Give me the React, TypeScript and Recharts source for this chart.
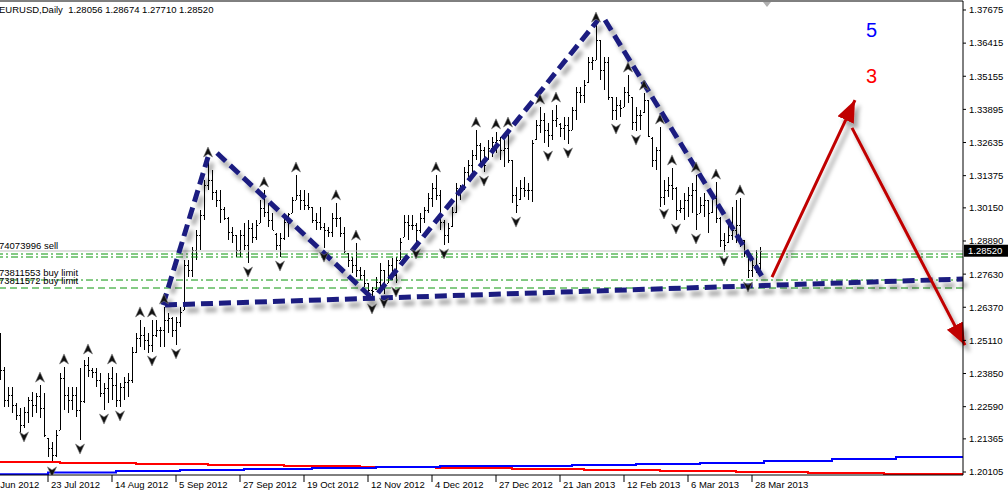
import React from "react";
import { ComposedChart, Bar, Line, Scatter, XAxis, YAxis, ReferenceLine, ReferenceDot } from "recharts";

const FONT = '"Liberation Sans", Arial, sans-serif';
const NAVY = "#1b1f80";
const ARROW_RED = "#c00000";
const ORDER_GREEN = "#0a960a";

// daily bars, index 0 = 5 Jul 2012
const highs = [
  1.2539, 1.241, 1.2334, 1.2334, 1.2273, 1.2254, 1.2258, 1.2296, 1.2315, 1.2311,
  1.2341, 1.2311, 1.214, 1.2125, 1.217, 1.2387, 1.241, 1.2334, 1.2334, 1.2334,
  1.2406, 1.2436, 1.2448, 1.2406, 1.2406, 1.2387, 1.2349, 1.2387, 1.241, 1.2387,
  1.2349, 1.2372, 1.2387, 1.2486, 1.2539, 1.2589, 1.2562, 1.2539, 1.2589, 1.2589,
  1.2562, 1.2638, 1.2615, 1.26, 1.26, 1.2638, 1.2817, 1.2817, 1.2866, 1.2931,
  1.3007, 1.3121, 1.3197, 1.3159, 1.3083, 1.3083, 1.3018, 1.298, 1.2942, 1.2912,
  1.2931, 1.2957, 1.2969, 1.2957, 1.2969, 1.3045, 1.3083, 1.3034, 1.2995, 1.2919,
  1.2919, 1.298, 1.2995, 1.3056, 1.314, 1.3083, 1.3083, 1.3072, 1.3018, 1.2995,
  1.3018, 1.2957, 1.2942, 1.2995, 1.3034, 1.298, 1.2942, 1.2843, 1.2828, 1.2881,
  1.279, 1.2779, 1.2729, 1.2714, 1.2752, 1.2805, 1.2779, 1.2817, 1.2824, 1.2828,
  1.29, 1.2988, 1.2988, 1.2988, 1.2957, 1.2995, 1.3018, 1.3072, 1.311, 1.314,
  1.3083, 1.2969, 1.2957, 1.3018, 1.311, 1.3102, 1.317, 1.3197, 1.3235, 1.3311,
  1.3262, 1.3246, 1.3273, 1.3284, 1.3304, 1.3284, 1.3273, 1.3311, 1.3197, 1.3094,
  1.3121, 1.3132, 1.311, 1.3273, 1.3349, 1.3399, 1.3376, 1.3338, 1.3387, 1.3406,
  1.3338, 1.3361, 1.3361, 1.3399, 1.3475, 1.3475, 1.3501, 1.3589, 1.3589, 1.371,
  1.3653, 1.3589, 1.3589, 1.3437, 1.3437, 1.3425, 1.3475, 1.352, 1.3437, 1.3399,
  1.3387, 1.3452, 1.3425, 1.3284, 1.3246, 1.3323, 1.3121, 1.3132, 1.3167, 1.3094,
  1.3045, 1.3072, 1.3094, 1.311, 1.314, 1.3056, 1.3072, 1.3045, 1.3072, 1.3113,
  1.298, 1.2919, 1.2969, 1.3018, 1.3045, 1.3053, 1.2893, 1.2843, 1.2828, 1.2855,
  1.28674,
];
const lows = [
  1.236, 1.2258, 1.2258, 1.2235, 1.2208, 1.2159, 1.2178, 1.2197, 1.222, 1.2235,
  1.2216, 1.2144, 1.2068, 1.2045, 1.2068, 1.217, 1.2246, 1.2235, 1.2246, 1.222,
  1.2132, 1.2273, 1.2372, 1.2368, 1.2334, 1.2296, 1.2246, 1.2273, 1.2284, 1.2258,
  1.2258, 1.2284, 1.2296, 1.2349, 1.2463, 1.2486, 1.2474, 1.2463, 1.2467, 1.2524,
  1.2486, 1.2486, 1.2539, 1.2524, 1.2494, 1.2562, 1.2627, 1.2752, 1.2752, 1.2817,
  1.2855, 1.2969, 1.3083, 1.3045, 1.3018, 1.2957, 1.2969, 1.2893, 1.2881, 1.2828,
  1.2828, 1.2855, 1.2805, 1.2881, 1.2893, 1.2957, 1.298, 1.2942, 1.2931, 1.2855,
  1.2828, 1.2893, 1.2904, 1.2995, 1.3045, 1.3007, 1.3007, 1.3007, 1.2957, 1.2931,
  1.2931, 1.2862, 1.2904, 1.2904, 1.2942, 1.2904, 1.2843, 1.279, 1.2767, 1.2752,
  1.2741, 1.2714, 1.2676, 1.2665, 1.2703, 1.2703, 1.2687, 1.2729, 1.2741, 1.2729,
  1.2817, 1.2904, 1.2893, 1.2931, 1.2874, 1.2919, 1.2957, 1.2995, 1.3018, 1.3045,
  1.2931, 1.2874, 1.2881, 1.2942, 1.2995, 1.3045, 1.3083, 1.3132, 1.3148, 1.3197,
  1.317, 1.3151, 1.3197, 1.3208, 1.3224, 1.3197, 1.317, 1.3186, 1.3034, 1.2995,
  1.3045, 1.3056, 1.3045, 1.3037, 1.3273, 1.33, 1.3262, 1.3246, 1.3273, 1.3323,
  1.3284, 1.3273, 1.3258, 1.3311, 1.3349, 1.3414, 1.3414, 1.349, 1.3539, 1.3577,
  1.3501, 1.3463, 1.3425, 1.3349, 1.3349, 1.3361, 1.3399, 1.3414, 1.3311, 1.3307,
  1.3311, 1.3376, 1.3284, 1.317, 1.3159, 1.3018, 1.3026, 1.3056, 1.3045, 1.2969,
  1.2995, 1.2969, 1.298, 1.2995, 1.2931, 1.2995, 1.298, 1.2919, 1.2995, 1.2957,
  1.2866, 1.2847, 1.2881, 1.2893, 1.2881, 1.2866, 1.2828, 1.2748, 1.2752, 1.2767,
  1.2771,
];
const opens = [
  1.2494, 1.2398, 1.2284, 1.2303, 1.2265, 1.2227, 1.2189, 1.2239, 1.2284, 1.2265,
  1.23, 1.2254, 1.214, 1.2102, 1.2075, 1.217, 1.2368, 1.2303, 1.2284, 1.2303,
  1.2246, 1.228, 1.2417, 1.2398, 1.2391, 1.236, 1.2311, 1.233, 1.2368, 1.2341,
  1.2284, 1.2334, 1.2353, 1.236, 1.2467, 1.252, 1.2531, 1.2513, 1.2494, 1.2531,
  1.2551, 1.2551, 1.2589, 1.2596, 1.2551, 1.2581, 1.2627, 1.2798, 1.2779, 1.2855,
  1.2912, 1.2988, 1.3102, 1.3121, 1.3075, 1.3045, 1.301, 1.2975, 1.2923, 1.2912,
  1.2855, 1.2912, 1.2874, 1.2938, 1.2904, 1.2957, 1.3015, 1.2999, 1.2969, 1.2915,
  1.2874, 1.29, 1.2961, 1.2995, 1.3045, 1.3064, 1.3045, 1.3026, 1.3018, 1.2969,
  1.2961, 1.2942, 1.2931, 1.2923, 1.2976, 1.2976, 1.2919, 1.2843, 1.2817, 1.2798,
  1.2779, 1.276, 1.2729, 1.2703, 1.2705, 1.2733, 1.2779, 1.273, 1.2798, 1.276,
  1.2817, 1.2904, 1.2961, 1.2949, 1.2949, 1.2931, 1.2976, 1.3007, 1.3053, 1.3091,
  1.3064, 1.2961, 1.2912, 1.2945, 1.2999, 1.3091, 1.3085, 1.3151, 1.3178, 1.3216,
  1.3254, 1.3235, 1.32, 1.3243, 1.3266, 1.3273, 1.3235, 1.3243, 1.3197, 1.3064,
  1.3048, 1.3091, 1.3083, 1.3083, 1.3275, 1.333, 1.3349, 1.3311, 1.3292, 1.3349,
  1.3335, 1.3319, 1.333, 1.3311, 1.3387, 1.3456, 1.3444, 1.3492, 1.357, 1.3577,
  1.3653, 1.3539, 1.357, 1.3437, 1.3387, 1.3406, 1.3399, 1.3456, 1.3435, 1.3342,
  1.3368, 1.3378, 1.3425, 1.3282, 1.3197, 1.3235, 1.3056, 1.3083, 1.3102, 1.309,
  1.3007, 1.3015, 1.3045, 1.3064, 1.3083, 1.2995, 1.3026, 1.3045, 1.2998, 1.3053,
  1.2978, 1.2893, 1.2885, 1.2912, 1.2931, 1.2949, 1.2893, 1.2843, 1.2779, 1.2798,
  1.28056,
];
const closes = [
  1.2398, 1.2284, 1.2303, 1.2265, 1.2227, 1.2189, 1.2239, 1.2284, 1.2265, 1.23,
  1.2254, 1.2151, 1.2102, 1.2075, 1.2151, 1.2368, 1.2303, 1.2284, 1.2303, 1.2246,
  1.228, 1.2417, 1.2398, 1.2391, 1.236, 1.2311, 1.233, 1.2368, 1.2341, 1.2284,
  1.2334, 1.2353, 1.236, 1.2467, 1.252, 1.2531, 1.2513, 1.2494, 1.2531, 1.2551,
  1.2551, 1.2589, 1.2596, 1.2551, 1.2581, 1.2619, 1.2798, 1.2779, 1.2855, 1.2912,
  1.2988, 1.3102, 1.3121, 1.3075, 1.3045, 1.301, 1.2975, 1.2923, 1.2912, 1.2855,
  1.2912, 1.2874, 1.2938, 1.2904, 1.2949, 1.3015, 1.2999, 1.2969, 1.2931, 1.2874,
  1.29, 1.2961, 1.299, 1.3045, 1.3064, 1.3045, 1.3026, 1.3018, 1.2969, 1.2961,
  1.2942, 1.2931, 1.2923, 1.2976, 1.2976, 1.2919, 1.285, 1.2817, 1.2798, 1.2779,
  1.276, 1.2729, 1.2703, 1.27, 1.2733, 1.2779, 1.2722, 1.2798, 1.276, 1.2815,
  1.2885, 1.2961, 1.2949, 1.2949, 1.2931, 1.2976, 1.3007, 1.3053, 1.3091, 1.3064,
  1.2961, 1.2912, 1.2938, 1.2999, 1.3091, 1.3075, 1.3151, 1.3178, 1.3216, 1.3254,
  1.3235, 1.3178, 1.3243, 1.3266, 1.3273, 1.3235, 1.3243, 1.3197, 1.3064, 1.3026,
  1.3091, 1.3083, 1.3083, 1.3262, 1.333, 1.3349, 1.3311, 1.3292, 1.3349, 1.3357,
  1.3319, 1.333, 1.3311, 1.3387, 1.3456, 1.3444, 1.3482, 1.357, 1.3577, 1.3653,
  1.3539, 1.357, 1.3437, 1.3387, 1.3406, 1.3395, 1.3456, 1.3444, 1.3342, 1.3368,
  1.3368, 1.3425, 1.329, 1.3197, 1.3235, 1.3056, 1.3083, 1.3102, 1.309, 1.3007,
  1.3015, 1.3045, 1.3064, 1.3083, 1.299, 1.3026, 1.3045, 1.2995, 1.3053, 1.2978,
  1.2893, 1.2874, 1.2912, 1.2931, 1.2949, 1.2893, 1.2845, 1.2779, 1.2798, 1.2786,
  1.2852,
];

// fractal markers (bar indices)
const fractalUp = [10, 16, 22, 28, 35, 38, 41, 52, 66, 74, 84, 89, 109, 119, 124, 127, 135, 139, 149, 157, 161, 165, 168, 174, 179, 185];
const fractalDown = [6, 13, 20, 26, 30, 38, 44, 62, 70, 81, 93, 96, 99, 104, 111, 121, 129, 137, 142, 154, 159, 166, 169, 174, 181, 187];

// indicator step lines at the bottom
const redIdx = [0, 15, 34, 52, 71, 90, 109, 128, 146, 165, 184, 202, 221, 241];
const redVals = [1.20485, 1.20447, 1.20409, 1.20371, 1.20333, 1.20295, 1.20257, 1.20219, 1.20181, 1.20143, 1.20105, 1.20067, 1.20029, 1.20029];
const blueIdx = [0, 12, 29, 45, 61, 78, 94, 110, 143, 159, 175, 191, 208, 224, 241];
const blueVals = [1.20017, 1.20086, 1.20143, 1.20181, 1.20219, 1.20257, 1.20295, 1.20333, 1.20371, 1.20409, 1.20447, 1.20523, 1.20599, 1.20675, 1.20751];

// hand drawn pattern (index, price)
const patternLines = [
  [[40.75, 1.26456], [52, 1.32084]],
  [[54.25, 1.32236], [93, 1.26722]],
  [[94.5, 1.26912], [149.5, 1.37294]],
  [[151.25, 1.37294], [190.75, 1.27483]],
  [[41.25, 1.26456], [240.75, 1.27445]],
];
const arrowLines = [
  [[193, 1.2752], [213.75, 1.3425]],
  [[213, 1.3319], [241.25, 1.2493]],
];

// order lines
const sellPrice = 1.2851;
const sellLabel = "74073996 sell";
const stopLevels = [1.28395, 1.28281];
const buyLimits = [1.27406, 1.27102];
const buyLabels = ["73811553 buy limit", "73811572 buy limit"];
const lastPrice = 1.2852;

const dateTicks = [-4, 12, 28, 44, 60, 76, 92, 108, 124, 140, 156, 172, 188];
const dateLabels = ["29 Jun 2012", "23 Jul 2012", "14 Aug 2012", "5 Sep 2012", "27 Sep 2012", "19 Oct 2012", "12 Nov 2012", "4 Dec 2012", "27 Dec 2012", "21 Jan 2013", "12 Feb 2013", "6 Mar 2013", "28 Mar 2013"];
const priceTicks = [1.20105, 1.21365, 1.2259, 1.2385, 1.2511, 1.2637, 1.2763, 1.2889, 1.3015, 1.31375, 1.32635, 1.33895, 1.35155, 1.36415, 1.37675];

const header = "EURUSD,Daily  1.28056 1.28674 1.27710 1.28520";

const bars = highs.map((h, i) => ({ i, o: opens[i], h, l: lows[i], c: closes[i] }));
const upPts = fractalUp.map((i) => ({ i, v: highs[i] }));
const dnPts = fractalDown.map((i) => ({ i, v: lows[i] }));
const redData = redIdx.map((i, k) => ({ i, v: redVals[k] }));
const blueData = blueIdx.map((i, k) => ({ i, v: blueVals[k] }));

const Y_MIN = 1.19991;
const Y_MAX = 1.38017;

function OhlcBar(props: any) {
  const { x, y, width, height, payload } = props;
  if (x == null || y == null) return null;
  const top = Math.min(y, y + height);
  const span = Math.abs(height);
  const cx = Math.round(x + width / 2);
  const range = payload.h - payload.l || 1;
  const yo = top + ((payload.h - payload.o) / range) * span;
  const yc = top + ((payload.h - payload.c) / range) * span;
  return (
    <g fill="#000">
      <rect x={cx} y={Math.round(top)} width={1} height={Math.max(1, Math.round(span))} />
      <rect x={cx - 1} y={Math.round(yo)} width={1} height={1} />
      <rect x={cx + 1} y={Math.round(yc)} width={1} height={1} />
    </g>
  );
}

const UpMark = ({ cx, cy }: any) => (
  <path
    d={`M${cx},${cy - 13} L${cx + 4.5},${cy - 3} L${cx},${cy - 6} L${cx - 4.5},${cy - 3} Z`}
    fill="#111"
    stroke="#777"
    strokeWidth={0.6}
  />
);
const DownMark = ({ cx, cy }: any) => (
  <path
    d={`M${cx},${cy + 14} L${cx + 4.5},${cy + 4} L${cx},${cy + 7} L${cx - 4.5},${cy + 4} Z`}
    fill="#111"
    stroke="#777"
    strokeWidth={0.6}
  />
);

const DateTick = ({ x, y, payload }: any) => {
  const k = dateTicks.indexOf(payload.value);
  return (
    <text x={x + 3} y={y + 6} fontSize={9.5} fontFamily={FONT} fill="#000">
      {dateLabels[k]}
    </text>
  );
};

const left = (p: any) => Math.min(p.x1, p.x2);
const right = (p: any) => Math.max(p.x1, p.x2);

export default function App() {
  return (
    <div style={{ position: "relative", width: 1008, height: 493, overflow: "hidden", background: "#fff" }}>
      <style>{`body{margin:0}`}</style>
      <div style={{ position: "absolute", left: -16, top: 0 }}>
        <ComposedChart width={1024} height={493} data={bars} margin={{ top: 1, right: 0, bottom: 0, left: 0 }}>
          <XAxis
            dataKey="i"
            type="number"
            domain={[-4, 240.75]}
            allowDataOverflow
            ticks={dateTicks}
            interval={0}
            height={18}
            tickSize={7}
            tickMargin={0}
            axisLine={{ stroke: "#000" }}
            tickLine={{ stroke: "#000" }}
            tick={<DateTick />}
          />
          <YAxis
            orientation="right"
            type="number"
            domain={[Y_MIN, Y_MAX]}
            allowDataOverflow
            ticks={priceTicks}
            interval={0}
            width={45}
            tickSize={3}
            tickMargin={3}
            axisLine={{ stroke: "#000" }}
            tickLine={{ stroke: "#000" }}
            tickFormatter={(v: number) => v.toFixed(5)}
            tick={{ fontSize: 9.5, fontFamily: FONT, fill: "#000" }}
          />
          <ReferenceLine y={Y_MAX} stroke="#000" ifOverflow="visible" />
          <ReferenceLine
            y={sellPrice}
            ifOverflow="visible"
            shape={(p: any) => (
              <g>
                <line x1={p.x1} y1={p.y1} x2={p.x2} y2={p.y2} stroke="#c0c0c0" strokeWidth={1} />
                <text x={left(p) + 15} y={p.y1 - 2} fontSize={9.5} fontFamily={FONT} fill="#000">
                  {sellLabel}
                </text>
              </g>
            )}
          />
          {stopLevels.map((v) => (
            <ReferenceLine key={v} y={v} stroke={ORDER_GREEN} strokeDasharray="7 3 2 3" ifOverflow="visible" />
          ))}
          {buyLimits.map((v, k) => (
            <ReferenceLine
              key={v}
              y={v}
              ifOverflow="visible"
              shape={(p: any) => (
                <g>
                  <line x1={p.x1} y1={p.y1} x2={p.x2} y2={p.y2} stroke={ORDER_GREEN} strokeDasharray={k === 0 ? "7 3 2 3" : "7 4"} />
                  <text x={left(p) + 15} y={p.y1 - 4} fontSize={9.5} fontFamily={FONT} fill="#000">
                    {buyLabels[k]}
                  </text>
                </g>
              )}
            />
          ))}
          <Line data={redData} dataKey="v" type="stepAfter" stroke="#ff0000" strokeWidth={2} dot={false} isAnimationActive={false} />
          <Line data={blueData} dataKey="v" type="stepAfter" stroke="#0000ff" strokeWidth={2} dot={false} isAnimationActive={false} />
          <Bar dataKey={(d: any) => [d.l, d.h]} barSize={3} shape={<OhlcBar />} isAnimationActive={false} />
          <Scatter data={upPts} dataKey="v" shape={<UpMark />} isAnimationActive={false} />
          <Scatter data={dnPts} dataKey="v" shape={<DownMark />} isAnimationActive={false} />
          {patternLines.map((s, k) => (
            <ReferenceLine
              key={"p" + k}
              segment={[{ x: s[0][0], y: s[0][1] }, { x: s[1][0], y: s[1][1] }]}
              ifOverflow="visible"
              shape={(p: any) => (
                <line
                  x1={p.x1}
                  y1={p.y1}
                  x2={p.x2}
                  y2={p.y2}
                  stroke={NAVY}
                  strokeWidth={5}
                  strokeDasharray="12 6"
                  filter="url(#penShadow)"
                />
              )}
            />
          ))}
          {arrowLines.map((s, k) => (
            <ReferenceLine
              key={"a" + k}
              segment={[{ x: s[0][0], y: s[0][1] }, { x: s[1][0], y: s[1][1] }]}
              ifOverflow="visible"
              shape={(p: any) => (
                <line
                  x1={p.x1}
                  y1={p.y1}
                  x2={p.x2}
                  y2={p.y2}
                  stroke={ARROW_RED}
                  strokeWidth={3}
                  markerEnd="url(#redHead)"
                  filter="url(#penShadow)"
                />
              )}
            />
          ))}
          <ReferenceLine
            y={lastPrice}
            ifOverflow="visible"
            shape={(p: any) => (
              <g>
                <rect x={right(p) + 1} y={p.y1 - 6} width={44} height={12} fill="#000" />
                <text x={right(p) + 5} y={p.y1 + 3.5} fontSize={9.5} fontFamily={FONT} fill="#fff">
                  {lastPrice.toFixed(5)}
                </text>
              </g>
            )}
          />
          <ReferenceDot
            x={191.75}
            y={Y_MAX}
            ifOverflow="visible"
            shape={(p: any) => <path d={`M${p.cx - 4},${p.cy + 1} L${p.cx + 4},${p.cy + 1} L${p.cx},${p.cy + 6} Z`} fill="#b0b0b0" />}
          />
        </ComposedChart>
      </div>
      <svg width={1008} height={493} style={{ position: "absolute", left: 0, top: 0, pointerEvents: "none" }}>
        <defs>
          <filter id="penShadow" filterUnits="userSpaceOnUse" x={-50} y={-50} width={1200} height={650}>
            <feDropShadow dx={4} dy={6} stdDeviation={2.2} floodColor="#000" floodOpacity={0.35} />
          </filter>
          <marker id="redHead" markerUnits="userSpaceOnUse" markerWidth={26} markerHeight={22} refX={22} refY={9} orient="auto">
            <path d="M0,0 L22,9 L0,18 Z" fill={ARROW_RED} />
          </marker>
        </defs>
        <text x={-1} y={13} fontSize={9.5} fontFamily={FONT} fill="#000" style={{ whiteSpace: "pre" }}>
          {header}
        </text>
        <text x={866} y={37} fontSize={20} fontFamily={FONT} fill="#0000ff">5</text>
        <text x={866} y={83} fontSize={20} fontFamily={FONT} fill="#ff0000">3</text>
      </svg>
    </div>
  );
}
